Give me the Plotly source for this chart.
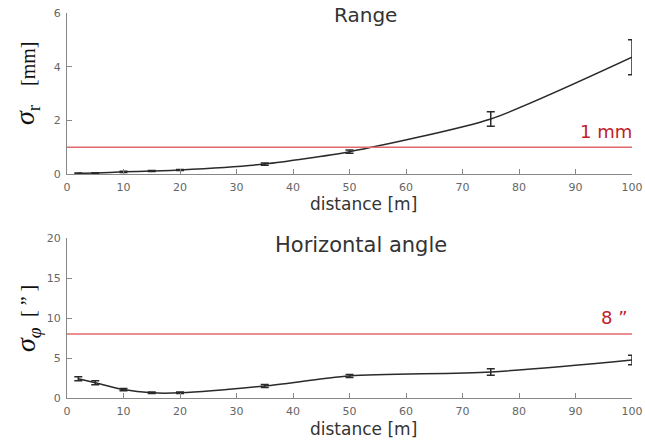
import plotly.graph_objects as go

# Data
dist = [2, 5, 10, 15, 20, 35, 50, 75, 100]
range_sigma = [0.03, 0.04, 0.08, 0.11, 0.15, 0.37, 0.83, 2.05, 4.35]
range_err = [0.01, 0.01, 0.02, 0.02, 0.02, 0.04, 0.06, 0.27, 0.65]
hz_sigma = [2.4, 1.9, 1.05, 0.65, 0.65, 1.5, 2.75, 3.25, 4.75]
hz_err = [0.25, 0.25, 0.15, 0.1, 0.1, 0.2, 0.2, 0.4, 0.6]
range_limit = 1
hz_limit = 8
x_ticks = [0, 10, 20, 30, 40, 50, 60, 70, 80, 90, 100]

W, H = 645, 442
fig = go.Figure()

line_col = "#2a2a2a"
red_line = "#e26a6a"
red_text = "#c0202a"

fig.add_trace(go.Scatter(
    x=dist, y=range_sigma, mode="lines",
    line=dict(color=line_col, width=1.5, shape="spline", smoothing=0.6),
    error_y=dict(type="data", array=range_err, visible=True, color=line_col, thickness=1.5, width=4),
    xaxis="x", yaxis="y", showlegend=False, cliponaxis=False))
fig.add_trace(go.Scatter(
    x=[0, 100], y=[range_limit, range_limit], mode="lines", line=dict(color=red_line, width=1.5),
    xaxis="x", yaxis="y", showlegend=False))
fig.add_trace(go.Scatter(
    x=dist, y=hz_sigma, mode="lines",
    line=dict(color=line_col, width=1.5, shape="spline", smoothing=0.8),
    error_y=dict(type="data", array=hz_err, visible=True, color=line_col, thickness=1.5, width=4),
    xaxis="x2", yaxis="y2", showlegend=False, cliponaxis=False))
fig.add_trace(go.Scatter(
    x=[0, 100], y=[hz_limit, hz_limit], mode="lines", line=dict(color=red_line, width=1.5),
    xaxis="x2", yaxis="y2", showlegend=False))

xd = [67 / W, 632 / W]
axis_common = dict(showgrid=False, zeroline=False, showline=True, linecolor="#888", linewidth=1.2,
                   ticks="inside", ticklen=5, tickcolor="#888", automargin=False,
                   tickfont=dict(family="DejaVu Sans", size=11, color="#666"))
fig.update_layout(
    width=W, height=H, margin=dict(l=0, r=0, t=0, b=0), autosize=False,
    plot_bgcolor="white", paper_bgcolor="white",
    xaxis=dict(domain=xd, range=[0, 100], tickvals=x_ticks, anchor="y", ticklabelstandoff=3, **axis_common),
    yaxis=dict(domain=[1 - 174 / H, 1 - 13 / H], range=[0, 6], tickvals=[0, 2, 4, 6], anchor="x",
               ticklabelstandoff=3, **axis_common),
    xaxis2=dict(domain=xd, range=[0, 100], tickvals=x_ticks, anchor="y2", ticklabelstandoff=3, **axis_common),
    yaxis2=dict(domain=[1 - 398 / H, 1 - 238 / H], range=[0, 20], tickvals=[0, 5, 10, 15, 20], anchor="x2",
                ticklabelstandoff=3, **axis_common),
)

def ann(text, x, y, size, color="#333", family="DejaVu Sans", angle=0, xanchor="center"):
    fig.add_annotation(text=text, x=x / W, y=1 - y / H, xref="paper", yref="paper",
                       showarrow=False, textangle=angle, xanchor=xanchor, yanchor="middle",
                       font=dict(size=size, color=color, family=family))

ann("Range", 365, 15, 20)
ann("Horizontal angle", 361, 245, 21)
ann("distance [m]", 363, 204, 17)
ann("distance [m]", 363, 429, 17)
ann("1 mm", 634, 131, 18, color=red_text, xanchor="right")
ann("8 \u201d", 630, 317, 18, color=red_text, xanchor="right")
ann("<i>σ</i><sub>r</sub>", 27, 115, 28, color="#111", family="Liberation Serif", angle=-90)
ann("[mm]", 28, 64, 20, color="#111", family="Liberation Serif", angle=-90)
ann("<i>σ</i><sub><i>φ</i></sub>", 27, 340, 28, color="#111", family="Liberation Serif", angle=-90)
ann("[ \u201d ]", 28, 301, 20, color="#111", family="Liberation Serif", angle=-90)

fig.write_html("out.html", config={"displayModeBar": False},
               post_script="document.body.style.margin='0px';")
